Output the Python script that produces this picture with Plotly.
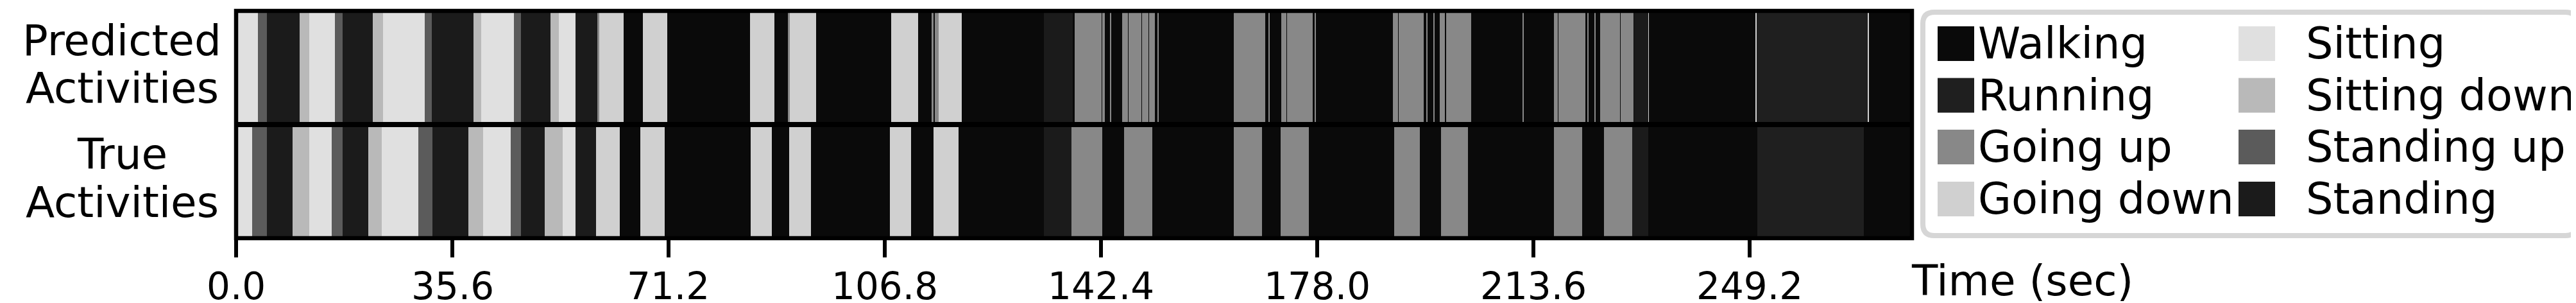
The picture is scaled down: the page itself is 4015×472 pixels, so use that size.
import plotly.graph_objects as go

# ---------------- data ----------------
activities = ["Walking", "Running", "Going up", "Going down",
              "Sitting", "Sitting down", "Standing up", "Standing"]
activity_colors = ["#0a0a0a", "#1f1f1f", "#888888", "#d0d0d0",
                   "#e0e0e0", "#b9b9b9", "#5b5b5b", "#1b1b1b"]

row_names = ["True Activities", "Predicted Activities"]
row_label_lines = [["True", "Activities"], ["Predicted", "Activities"]]

end_time = 275.93
tick_values = [0.0, 35.6, 71.2, 106.8, 142.4, 178.0, 213.6, 249.2]
tick_labels = ["0.0", "35.6", "71.2", "106.8", "142.4", "178.0", "213.6", "249.2"]
x_title = "Time (sec)"

pred_starts = [0.0, 3.59, 5.09, 10.47, 12.07, 16.27, 17.54, 22.54, 24.19, 31.07,
               32.25, 39.09, 40.36, 45.73, 46.91, 51.77, 53.14, 55.87, 59.50, 59.83,
               63.79, 67.00, 71.00, 84.65, 88.66, 90.87, 91.16, 95.49, 107.81, 112.33,
               114.55, 114.85, 115.00, 115.68, 119.50, 132.95, 137.76, 138.09, 142.47, 142.61,
               143.04, 143.89, 144.03, 145.94, 146.84, 146.94, 149.06, 149.16, 150.19, 150.29,
               151.32, 151.70, 151.82, 164.29, 165.38, 165.48, 169.48, 170.00, 170.20, 172.12,
               172.97, 173.07, 177.21, 177.64, 177.76, 190.52, 191.27, 191.37, 195.56, 196.03,
               196.13, 197.17, 197.27, 198.20, 199.05, 199.20, 203.39, 211.88, 211.98, 216.93,
               217.64, 217.74, 219.89, 219.99, 222.11, 222.56, 222.66, 223.65, 223.75, 224.58,
               227.85, 227.95, 230.04, 230.20, 232.46, 232.56, 250.25, 250.35, 268.65, 268.75]
pred_labels = ["Sitting", "Standing up", "Standing", "Sitting down", "Sitting", "Standing up", "Standing", "Sitting down", "Sitting", "Standing up",
               "Standing", "Sitting down", "Sitting", "Standing up", "Standing", "Sitting down", "Sitting", "Standing", "Going up", "Going down",
               "Walking", "Going down", "Walking", "Going down", "Walking", "Going up", "Going down", "Walking", "Going down", "Walking",
               "Going up", "Walking", "Going up", "Going down", "Walking", "Standing", "Walking", "Going up", "Walking", "Going up",
               "Walking", "Going up", "Walking", "Going up", "Walking", "Going up", "Walking", "Going up", "Walking", "Going up",
               "Walking", "Going up", "Walking", "Going up", "Walking", "Going up", "Walking", "Going up", "Walking", "Going up",
               "Walking", "Going up", "Walking", "Going up", "Walking", "Going up", "Walking", "Going up", "Walking", "Going up",
               "Walking", "Going up", "Walking", "Going up", "Walking", "Going up", "Walking", "Going up", "Walking", "Going up",
               "Walking", "Going up", "Walking", "Going up", "Walking", "Going up", "Walking", "Going up", "Walking", "Going up",
               "Walking", "Going up", "Walking", "Standing", "Going down", "Walking", "Going down", "Running", "Going down", "Walking"]

true_starts = [0.0, 2.64, 5.09, 9.34, 12.07, 15.75, 17.54, 21.78, 24.00, 30.03,
               32.34, 38.24, 40.69, 45.22, 46.91, 50.83, 53.80, 55.87, 59.26, 63.18,
               66.57, 70.58, 84.74, 88.23, 91.11, 94.60, 107.66, 111.15, 114.88, 118.94,
               132.95, 137.57, 142.57, 146.23, 150.80, 164.29, 168.87, 172.03, 176.65, 190.70,
               194.95, 198.44, 202.87, 217.02, 221.59, 225.18, 229.83, 232.46, 250.42, 267.96]
true_labels = ["Sitting", "Standing up", "Standing", "Sitting down", "Sitting", "Standing up", "Standing", "Sitting down", "Sitting", "Standing up",
               "Standing", "Sitting down", "Sitting", "Standing up", "Standing", "Sitting down", "Sitting", "Standing", "Going down", "Walking",
               "Going down", "Walking", "Going down", "Walking", "Going down", "Walking", "Going down", "Walking", "Going down", "Walking",
               "Standing", "Going up", "Walking", "Going up", "Walking", "Going up", "Walking", "Going up", "Walking", "Going up",
               "Walking", "Going up", "Walking", "Going up", "Walking", "Going up", "Standing", "Walking", "Running", "Walking"]

# ---------------- geometry (pixels) ----------------
W, H = 4015, 472
L, R, T, B = 360, 1043, 9, 109
PW, PH = W - L - R, H - T - B
FONT = "DejaVu Sans"


def px_x(p):
    return (p - L) / PW


def px_y(p):
    return 1 - (p - T) / PH


def segments(starts, labels, row):
    ends = starts[1:] + [end_time]
    out = {}
    for s, e, lab in zip(starts, ends, labels):
        out.setdefault(lab, ([], [], []))
        out[lab][0].append(row)
        out[lab][1].append(s)
        out[lab][2].append(e - s)
    return out


rows = [segments(true_starts, true_labels, 0), segments(pred_starts, pred_labels, 1)]

fig = go.Figure()
for act, col in zip(activities, activity_colors):
    ys, bases, durs = [], [], []
    for r in rows:
        if act in r:
            ys += r[act][0]
            bases += r[act][1]
            durs += r[act][2]
    fig.add_trace(go.Bar(
        name=act, y=ys, base=bases, x=durs, orientation="h", width=1,
        marker=dict(color=col, line=dict(width=0)), showlegend=False,
        hoverinfo="skip"))

shapes = []
# frame (spines centred on the axes edges)
shapes.append(dict(type="rect", xref="paper", yref="paper", x0=0, x1=1, y0=0, y1=1,
                   line=dict(color="black", width=6.5), fillcolor="rgba(0,0,0,0)", layer="above"))
shapes.append(dict(type="line", xref="paper", yref="paper", x0=0, x1=1, y0=0.5, y1=0.5,
                   line=dict(color="black", width=8), layer="above"))

annotations = []
# row labels
row_line_y = {1: [56, 129], 0: [232, 307]}
for ri, lines in enumerate(row_label_lines):
    for li, txt in enumerate(lines):
        annotations.append(dict(text=txt, xref="paper", yref="paper", x=px_x(182),
                                y=px_y(row_line_y[ri][li]), xanchor="center", yanchor="middle",
                                showarrow=False, font=dict(family=FONT, size=66, color="black")))
# x tick labels (placed on the x scale, below the outside ticks)
for tv, tl in zip(tick_values, tick_labels):
    annotations.append(dict(text=tl, xref="x", yref="paper", x=tv, y=px_y(438),
                            xanchor="center", yanchor="middle", showarrow=False, borderpad=0,
                            font=dict(family=FONT, size=58, color="black")))
# x title
annotations.append(dict(text=x_title, xref="paper", yref="paper", x=px_x(2969),
                        y=px_y(429), xanchor="left", yanchor="middle", showarrow=False,
                        font=dict(family=FONT, size=66, color="black")))

# legend box (rounded)
bx0, bx1, by0, by1, rad = 2989, 4009, 11, 359, 18
path = (f"M {px_x(bx0+rad)} {px_y(by0)} L {px_x(bx1-rad)} {px_y(by0)} "
        f"Q {px_x(bx1)} {px_y(by0)} {px_x(bx1)} {px_y(by0+rad)} "
        f"L {px_x(bx1)} {px_y(by1-rad)} Q {px_x(bx1)} {px_y(by1)} {px_x(bx1-rad)} {px_y(by1)} "
        f"L {px_x(bx0+rad)} {px_y(by1)} Q {px_x(bx0)} {px_y(by1)} {px_x(bx0)} {px_y(by1-rad)} "
        f"L {px_x(bx0)} {px_y(by0+rad)} Q {px_x(bx0)} {px_y(by0)} {px_x(bx0+rad)} {px_y(by0)} Z")
shapes.append(dict(type="path", xref="paper", yref="paper", path=path,
                   line=dict(color="#d6d6d6", width=8), fillcolor="white", layer="above"))

col_swatch_x = [(3012, 3069), (3481, 3538)]
col_text_x = [3073, 3584]
row_cy = [60, 140.5, 221, 302]
for i, (act, col) in enumerate(zip(activities, activity_colors)):
    c, r = divmod(i, 4)
    sx0, sx1 = col_swatch_x[c]
    cy = row_cy[r]
    shapes.append(dict(type="rect", xref="paper", yref="paper",
                       x0=px_x(sx0), x1=px_x(sx1), y0=px_y(cy + 27), y1=px_y(cy - 27),
                       line=dict(width=0), fillcolor=col, layer="above"))
    annotations.append(dict(text=act, xref="paper", yref="paper", x=px_x(col_text_x[c]),
                            y=px_y(cy), xanchor="left", yanchor="middle", showarrow=False,
                            font=dict(family=FONT, size=67, color="black")))

fig.update_layout(
    width=W, height=H, margin=dict(l=L, r=R, t=T, b=B, pad=0),
    paper_bgcolor="white", plot_bgcolor="white",
    barmode="overlay", bargap=0, showlegend=False,
    shapes=shapes, annotations=annotations,
    font=dict(family=FONT, color="black"),
    xaxis=dict(range=[0, end_time], tickvals=tick_values, ticktext=tick_labels,
               ticks="outside", ticklen=29, tickwidth=6, tickcolor="black",
               showticklabels=False, automargin=False,
               showgrid=False, zeroline=False, showline=False, fixedrange=True),
    yaxis=dict(range=[-0.5, 1.5], showticklabels=False, ticks="", showgrid=False,
               zeroline=False, showline=False, fixedrange=True, automargin=False),
)

fig.write_html("out.html")
